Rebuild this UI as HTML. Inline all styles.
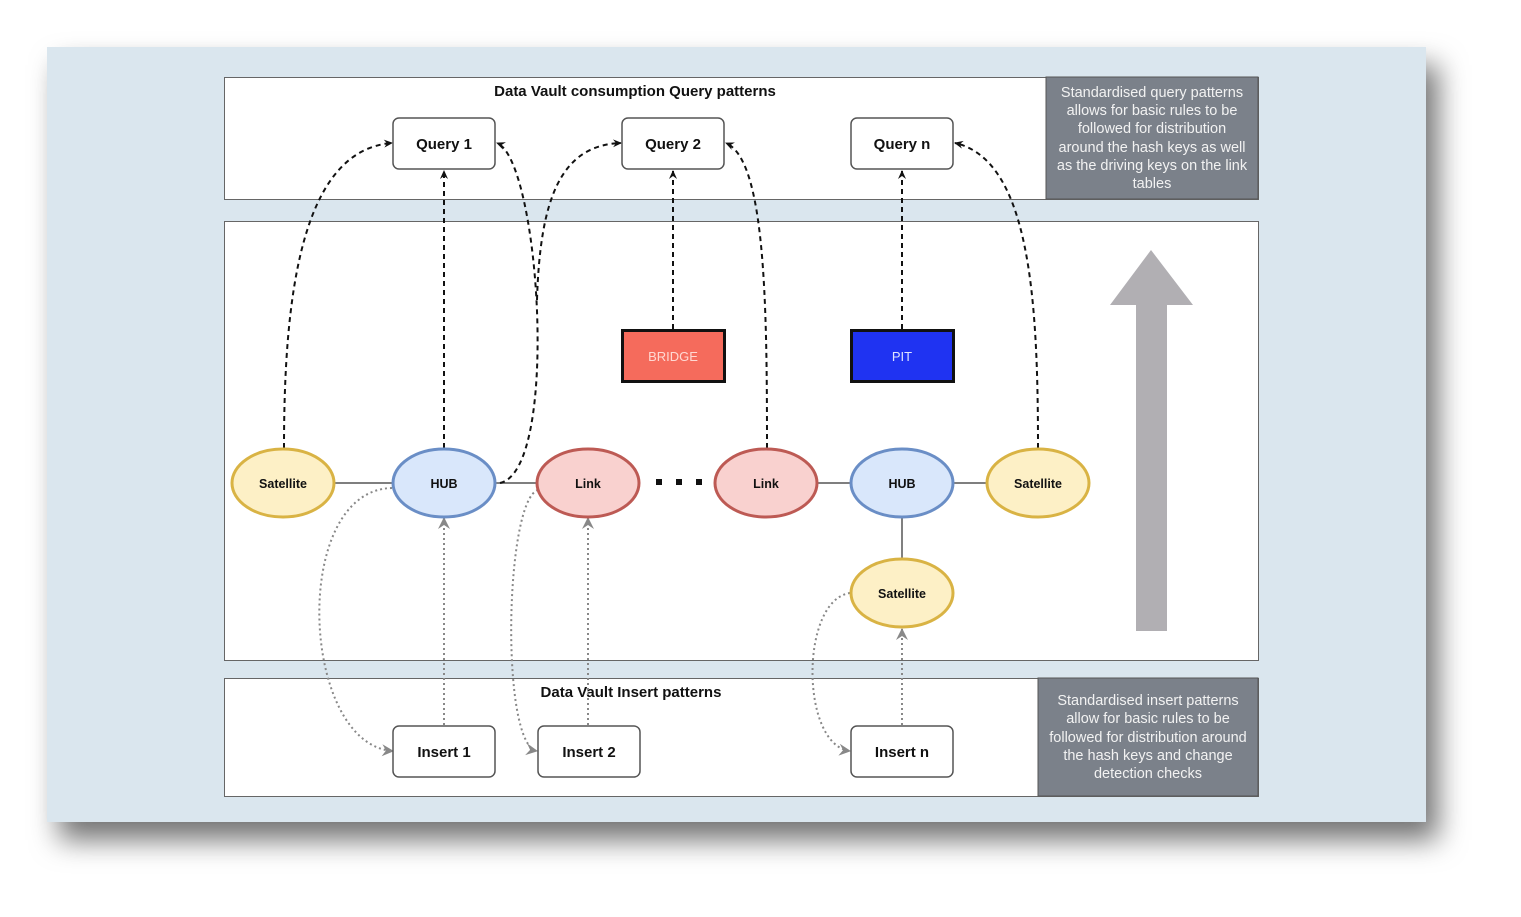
<!DOCTYPE html>
<html><head><meta charset="utf-8"><style>
html,body{margin:0;padding:0;background:#fff;width:1521px;height:917px;overflow:hidden}
svg{display:block}
text{font-family:"Liberation Sans",Arial,sans-serif}
</style></head><body>
<svg width="1521" height="917" viewBox="0 0 1521 917" xmlns="http://www.w3.org/2000/svg">
<defs>
<filter id="sh" x="-10%" y="-10%" width="125%" height="130%"><feDropShadow dx="12" dy="18" stdDeviation="14" flood-color="#000" flood-opacity="0.55"/></filter>
<marker id="ab" markerWidth="10" markerHeight="10" refX="8" refY="5" orient="auto" markerUnits="userSpaceOnUse"><path d="M0,1 L9,5 L0,9 L3,5 Z" fill="#111"/></marker>
<marker id="ag" markerWidth="14" markerHeight="14" refX="11" refY="7" orient="auto" markerUnits="userSpaceOnUse"><path d="M0,1 L12,7 L0,13 L4,7 Z" fill="#888"/></marker>
</defs>
<rect x="47" y="47" width="1379" height="775" fill="#dae6ee" filter="url(#sh)"/>
<!-- panels -->
<rect x="224.5" y="77.5" width="1034" height="122" fill="#fff" stroke="#666"/>
<rect x="1046" y="77" width="212" height="122" fill="#7b818a" stroke="#555"/>
<rect x="224.5" y="221.5" width="1034" height="439" fill="#fff" stroke="#666"/>
<rect x="224.5" y="678.5" width="1034" height="118" fill="#fff" stroke="#666"/>
<rect x="1038" y="678" width="220" height="118" fill="#7b818a" stroke="#555"/>
<text x="635" y="96" font-size="15" font-weight="bold" text-anchor="middle" fill="#111">Data Vault consumption Query patterns</text>
<text x="631" y="697" font-size="15" font-weight="bold" text-anchor="middle" fill="#111">Data Vault Insert patterns</text>
<g font-size="14.5" fill="#f2f2f2" text-anchor="middle">
<text x="1152" y="97">Standardised query patterns</text>
<text x="1152" y="115">allows for basic rules to be</text>
<text x="1152" y="133">followed for distribution</text>
<text x="1152" y="152">around the hash keys as well</text>
<text x="1152" y="170">as the driving keys on the link</text>
<text x="1152" y="188">tables</text>
<text x="1148" y="705">Standardised insert patterns</text>
<text x="1148" y="723">allow for basic rules to be</text>
<text x="1148" y="742">followed for distribution around</text>
<text x="1148" y="760">the hash keys and change</text>
<text x="1148" y="778">detection checks</text>
</g>
<!-- big arrow -->
<path d="M1136,631 L1136,305 L1110,305 L1151,250 L1193,305 L1167,305 L1167,631 Z" fill="#b1afb3"/>
<!-- solid lines -->
<g stroke="#555" stroke-width="1.5">
<line x1="334" y1="483" x2="393" y2="483"/>
<line x1="495" y1="483" x2="537" y2="483"/>
<line x1="817" y1="483" x2="851" y2="483"/>
<line x1="953" y1="483" x2="987" y2="483"/>
<line x1="902" y1="517" x2="902" y2="559"/>
</g>
<!-- dashed query connectors -->
<g stroke="#111" stroke-width="2" stroke-dasharray="5,4" fill="none" marker-end="url(#ab)">
<path d="M284,448 C284,300 300,150 392,143"/>
<path d="M444,448 L444,171"/>
<path d="M500,483 C560,470 540,160 497,143"/>
<path d="M537,300 C540,200 560,145 621,143"/>
<path d="M673,329 L673,171"/>
<path d="M767,448 C767,300 765,160 726,143"/>
<path d="M902,329 L902,171"/>
<path d="M1038,448 C1038,300 1030,160 955,143"/>
</g>
<!-- dotted insert connectors -->
<g stroke="#888" stroke-width="2" stroke-dasharray="2,3" fill="none" marker-end="url(#ag)">
<path d="M444,725 L444,518"/>
<path d="M588,725 L588,518"/>
<path d="M902,725 L902,629"/>
<path d="M392,488 C290,490 300,745 393,751"/>
<path d="M538,490 C505,500 500,745 537,751"/>
<path d="M850,593 C800,600 800,745 850,751"/>
</g>
<!-- query boxes -->
<g stroke="#555" stroke-width="1.5" fill="#fff">
<rect x="393" y="118" width="102" height="51" rx="6"/>
<rect x="622" y="118" width="102" height="51" rx="6"/>
<rect x="851" y="118" width="102" height="51" rx="6"/>
<rect x="393" y="726" width="102" height="51" rx="6"/>
<rect x="538" y="726" width="102" height="51" rx="6"/>
<rect x="851" y="726" width="102" height="51" rx="6"/>
</g>
<g font-size="15" font-weight="bold" text-anchor="middle" fill="#111">
<text x="444" y="149">Query 1</text>
<text x="673" y="149">Query 2</text>
<text x="902" y="149">Query n</text>
<text x="444" y="757">Insert 1</text>
<text x="589" y="757">Insert 2</text>
<text x="902" y="757">Insert n</text>
</g>
<rect x="622.5" y="330.5" width="102" height="51" fill="#f56b5c" stroke="#111" stroke-width="3"/>
<text x="673" y="361" font-size="13" fill="#ffd8d2" text-anchor="middle">BRIDGE</text>
<rect x="851.5" y="330.5" width="102" height="51" fill="#1f33f2" stroke="#111" stroke-width="3"/>
<text x="902" y="361" font-size="13" fill="#dfe4ff" text-anchor="middle">PIT</text>
<!-- ellipses -->
<g stroke-width="3">
<ellipse cx="283" cy="483" rx="51" ry="34" fill="#fdf0c6" stroke="#d9b344"/>
<ellipse cx="444" cy="483" rx="51" ry="34" fill="#d9e7fb" stroke="#6a8ec6"/>
<ellipse cx="588" cy="483" rx="51" ry="34" fill="#f9d1cf" stroke="#bd5a54"/>
<ellipse cx="766" cy="483" rx="51" ry="34" fill="#f9d1cf" stroke="#bd5a54"/>
<ellipse cx="902" cy="483" rx="51" ry="34" fill="#d9e7fb" stroke="#6a8ec6"/>
<ellipse cx="1038" cy="483" rx="51" ry="34" fill="#fdf0c6" stroke="#d9b344"/>
<ellipse cx="902" cy="593" rx="51" ry="34" fill="#fdf0c6" stroke="#d9b344"/>
</g>
<g font-size="12.5" font-weight="bold" text-anchor="middle" fill="#111">
<text x="283" y="488">Satellite</text>
<text x="444" y="488">HUB</text>
<text x="588" y="488">Link</text>
<text x="766" y="488">Link</text>
<text x="902" y="488">HUB</text>
<text x="1038" y="488">Satellite</text>
<text x="902" y="598">Satellite</text>
</g>
<g fill="#111"><rect x="656" y="479" width="6" height="6"/><rect x="676" y="479" width="6" height="6"/><rect x="696" y="479" width="6" height="6"/></g>
</svg>
</body></html>
